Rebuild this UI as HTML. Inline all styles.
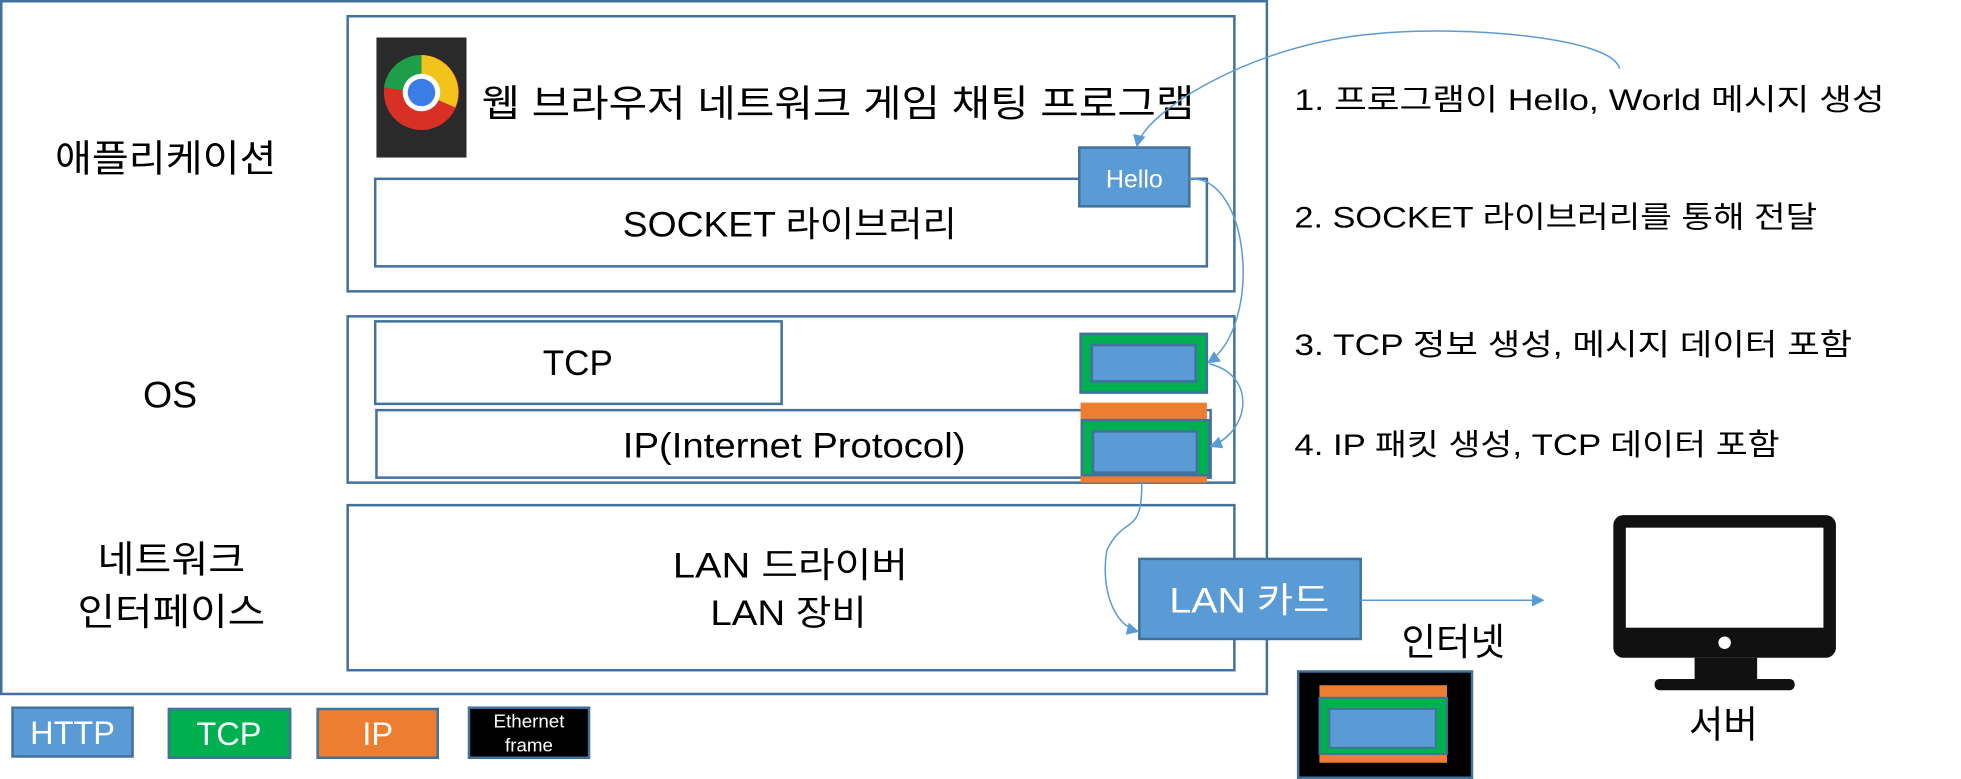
<!DOCTYPE html>
<html><head><meta charset="utf-8"><style>
html,body{margin:0;padding:0;background:#fff;}
svg{display:block;}
text{font-family:"Liberation Sans","Noto Sans CJK KR",sans-serif;}
</style></head><body>
<svg width="1961" height="779" viewBox="0 0 1568 623" preserveAspectRatio="none" xmlns="http://www.w3.org/2000/svg">
<defs>
<marker id="ah" markerWidth="10" markerHeight="10" refX="9" refY="5" orient="auto" markerUnits="userSpaceOnUse">
<path d="M0,0 L10,5 L0,10 z" fill="#5b9bd5"/></marker>
</defs>
<g fill="none" stroke="#41719c" stroke-width="2">
<rect x="1" y="1" width="1012" height="554"/>
<rect x="278" y="13" width="709" height="220"/>
<rect x="300" y="143" width="665" height="70"/>
<rect x="278" y="253" width="709" height="133"/>
<rect x="300" y="257" width="325" height="66"/>
<rect x="301" y="328" width="667" height="54"/>
<rect x="278" y="404" width="709" height="132"/>
</g>
<rect x="301" y="30" width="72" height="96" fill="#2a2a2a"/>
<circle cx="337" cy="74" r="30" fill="#d93025"/>
<path d="M337 44 A30 30 0 0 1 364 86 L337 74 Z" fill="#f2c318"/>
<path d="M307 70 A30 30 0 0 1 337 44 L337 74 Z" fill="#1e9e48"/>
<circle cx="337" cy="74" r="15" fill="#fff"/>
<circle cx="337" cy="74" r="11" fill="#3b7de6"/>
<text x="385" y="93" font-size="30" textLength="570" lengthAdjust="spacingAndGlyphs">웹 브라우저 네트워크 게임  채팅 프로그램</text>
<text x="498" y="189" font-size="28" textLength="267" lengthAdjust="spacingAndGlyphs">SOCKET 라이브러리</text>
<text x="462" y="300" font-size="28" text-anchor="middle">TCP</text>
<text x="498" y="366" font-size="28" textLength="274" lengthAdjust="spacingAndGlyphs">IP(Internet Protocol)</text>
<text x="538" y="462" font-size="28" textLength="188" lengthAdjust="spacingAndGlyphs">LAN 드라이버</text>
<text x="568" y="500" font-size="28" textLength="125" lengthAdjust="spacingAndGlyphs">LAN 장비</text>
<rect x="863" y="118" width="88" height="47" fill="#5b9bd5" stroke="#41719c" stroke-width="2"/>
<text x="907" y="150" font-size="20" fill="#fff" text-anchor="middle">Hello</text>
<rect x="864" y="267" width="101" height="47" fill="#00b050" stroke="#41719c" stroke-width="2"/>
<rect x="873" y="276" width="83" height="29" fill="#5b9bd5" stroke="#41719c" stroke-width="2"/>
<rect x="864" y="322" width="101" height="64" fill="#ed7d31"/>
<rect x="865" y="336" width="102" height="44" fill="#00b050" stroke="#41719c" stroke-width="2"/>
<rect x="874" y="345" width="83" height="33" fill="#5b9bd5" stroke="#41719c" stroke-width="2"/>
<rect x="911" y="447" width="177" height="64" fill="#5b9bd5" stroke="#41719c" stroke-width="2"/>
<text x="935" y="490" font-size="28" fill="#fff" textLength="128" lengthAdjust="spacingAndGlyphs">LAN 카드</text>
<g fill="none" stroke="#5b9bd5" stroke-width="1.2">
<path d="M1295 55 C1290 30 1170 20 1100 27 C1000 35 915 90 909 117" marker-end="url(#ah)"/>
<path d="M951 143 C1000 140 1010 260 966 290" marker-end="url(#ah)"/>
<path d="M967 291 C1005 300 1000 345 968 357" marker-end="url(#ah)"/>
<path d="M913 386 C913 430 900 410 885 440 C880 470 890 500 910 505" marker-end="url(#ah)"/>
<path d="M1088 480 L1234 480" marker-end="url(#ah)"/>
</g>
<text x="44" y="137" font-size="30" textLength="177" lengthAdjust="spacingAndGlyphs">애플리케이션</text>
<text x="136" y="326" font-size="30" text-anchor="middle">OS</text>
<text x="78" y="458" font-size="30" textLength="118" lengthAdjust="spacingAndGlyphs">네트워크</text>
<text x="62" y="500" font-size="30" textLength="150" lengthAdjust="spacingAndGlyphs">인터페이스</text>
<text x="1035" y="88" font-size="24" textLength="472" lengthAdjust="spacingAndGlyphs">1. 프로그램이 Hello, World 메시지 생성</text>
<text x="1035" y="182" font-size="24" textLength="418" lengthAdjust="spacingAndGlyphs">2. SOCKET 라이브러리를 통해 전달</text>
<text x="1035" y="284" font-size="24" textLength="446" lengthAdjust="spacingAndGlyphs">3. TCP 정보 생성, 메시지 데이터 포함</text>
<text x="1035" y="364" font-size="24" textLength="388" lengthAdjust="spacingAndGlyphs">4. IP 패킷 생성, TCP 데이터 포함</text>
<rect x="1290" y="412" width="178" height="114" rx="8" fill="#111"/>
<rect x="1300" y="422" width="158" height="80" fill="#fff"/>
<circle cx="1379" cy="514" r="5" fill="#fff"/>
<rect x="1355" y="526" width="50" height="20" fill="#111"/>
<rect x="1323" y="543" width="112" height="9" rx="4" fill="#111"/>
<text x="1378" y="590" font-size="30" text-anchor="middle">서버</text>
<text x="1162" y="524" font-size="30" text-anchor="middle">인터넷</text>
<rect x="1038" y="537" width="139" height="85" fill="#000" stroke="#41719c" stroke-width="2"/>
<rect x="1055" y="548" width="102" height="62" fill="#ed7d31"/>
<rect x="1055" y="558" width="102" height="45" fill="#00b050" stroke="#41719c" stroke-width="1.5"/>
<rect x="1063" y="567" width="85" height="31" fill="#5b9bd5" stroke="#41719c" stroke-width="1.5"/>
<rect x="10" y="566" width="96" height="39" fill="#5b9bd5" stroke="#41719c" stroke-width="2"/>
<text x="58" y="595" font-size="26" fill="#fff" text-anchor="middle">HTTP</text>
<rect x="135" y="567" width="97" height="39" fill="#00b050" stroke="#41719c" stroke-width="2"/>
<text x="183" y="596" font-size="26" fill="#fff" text-anchor="middle">TCP</text>
<rect x="254" y="567" width="96" height="39" fill="#ed7d31" stroke="#41719c" stroke-width="2"/>
<text x="302" y="596" font-size="26" fill="#fff" text-anchor="middle">IP</text>
<rect x="375" y="566" width="96" height="40" fill="#000" stroke="#41719c" stroke-width="2"/>
<text x="423" y="582" font-size="15" fill="#fff" text-anchor="middle">Ethernet</text>
<text x="423" y="601" font-size="15" fill="#fff" text-anchor="middle">frame</text>
</svg>
</body></html>
